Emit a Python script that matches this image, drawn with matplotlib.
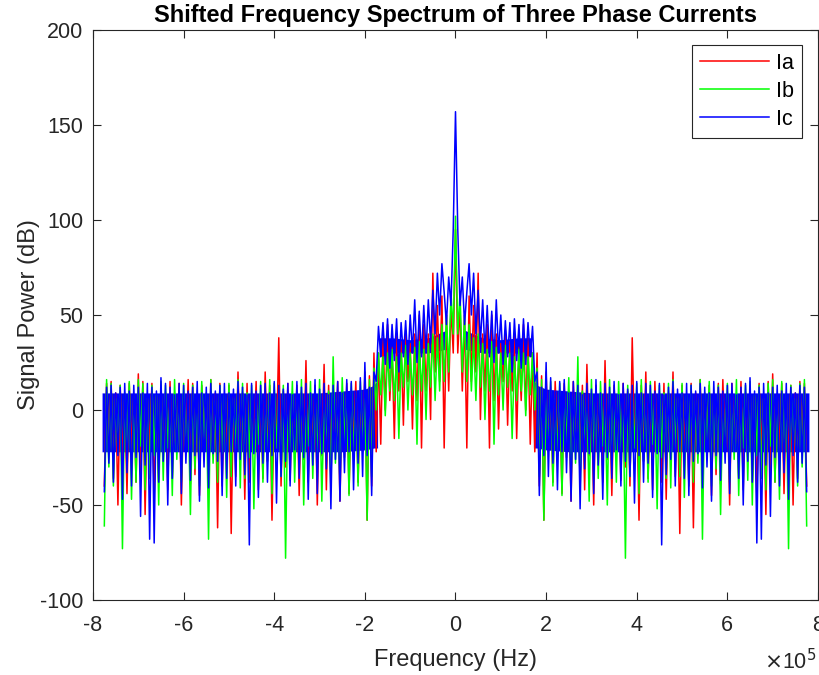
import numpy as np
import matplotlib
matplotlib.use("Agg")
import matplotlib.pyplot as plt

plt.rcParams['font.family'] = ['Liberation Sans', 'DejaVu Sans']
plt.rcParams['axes.unicode_minus'] = False

# ---------------- data (positive half of the symmetric spectrum) ----------------
# frequency bin spacing (Hz) of the plotted spectrum
bin_hz = 0.05e5

# central region 0 .. 1.75e5 Hz (dB)
ia_center = [95, 30, 55, 10, 50, -20, 60, 15, 55, 20, 72, -5, 40, 10, 45, -20, 50, 5,
             40, -10, 35, 15, 42, -8, 36, 10, 40, -15, 33, 5, 45, 0, 38, -18, 30, -22]
ib_center = [102, 40, 62, 20, 50, 15, 45, 10, 38, 5, 40, 12, 35, -5, 32, 10, 36, -18,
             33, 8, 30, 0, 34, 12, 30, -15, 28, 5, 32, 10, 30, -3, 28, 8, 30, 0]
ic_center = [157, 95, 55, 70, 45, 62, 77, 50, 72, 40, 63, 35, 58, 30, 55, 28, 52, 25,
             58, 30, 50, 24, 47, 28, 46, 20, 48, 26, 45, 22, 48, 24, 46, 28, 44, 15]

# outer region 1.8e5 .. 7.7e5 Hz : local maxima and minima (dB)
ia_peaks = [30, 18, 20, 9, 15, 7, 14, 10, 15, 6, 13, 24, 8, 13, 6, 26, 9, 13, 7, 14,
            10, 38, 6, 13, 20, 8, 15, 6, 14, 9, 20, 7, 13, 5, 14, 9, 16, 6, 13, 8,
            14, 16, 7, 14, 6, 15, 9, 13, 7, 14, 6, 15, 19, 8, 14, 6, 13, 9, 15, 14]
ia_dips = [-40, -58, -22, -38, -18, -44, -25, -48, -20, -36, -42, -24, -50, -19, -38, -26,
           -45, -21, -37, -30, -40, -18, -58, -27, -36, -42, -20, -38, -47, -23, -35, -65,
           -19, -40, -62, -24, -37, -20, -45, -34, -39, -22, -50, -18, -36, -42, -25, -38,
           -46, -20, -55, -34, -38, -21, -44, -27, -50, -36, -19, -40]
ib_peaks = [22, 16, 8, 15, 6, 14, 9, 17, 7, 28, 10, 6, 16, 8, 15, 5, 16, 9, 15, 6,
            13, 8, 14, 16, 7, 15, 5, 13, 9, 14, 16, 6, 14, 8, 13, 5, 16, 9, 15, 7,
            13, 6, 14, 9, 16, 5, 13, 15, 8, 13, 6, 14, 16, 7, 15, 9, 13, 6, 14, 16]
ib_dips = [-35, -58, -20, -40, -24, -45, -18, -38, -28, -42, -21, -48, -26, -36, -19, -50,
           -30, -38, -22, -78, -35, -20, -44, -27, -38, -18, -52, -25, -36, -41, -21, -35,
           -46, -23, -38, -28, -68, -19, -40, -31, -55, -22, -38, -26, -45, -20, -37, -50,
           -24, -36, -42, -19, -38, -47, -27, -73, -22, -40, -30, -61]
ic_peaks = [20, 12, 25, 17, 10, 15, 16, 9, 15, 13, 8, 14, 11, 16, 9, 14, 12, 15, 8, 14,
            11, 13, 15, 9, 14, 13, 10, 14, 8, 12, 15, 11, 9, 14, 13, 10, 14, 12, 9, 15,
            12, 10, 13, 14, 8, 12, 14, 17, 10, 12, 14, 9, 12, 13, 10, 14, 12, 9, 13, 12]
ic_dips = [-45, -24, -35, -28, -42, -22, -33, -48, -26, -52, -31, -23, -44, -29, -47, -25,
           -36, -21, -40, -27, -35, -49, -24, -38, -28, -46, -23, -71, -34, -26, -40, -22,
           -36, -45, -27, -23, -41, -30, -48, -24, -37, -28, -44, -22, -36, -50, -27, -38,
           -70, -68, -29, -56, -25, -40, -33, -47, -24, -38, -28, -43]

# dense noise floor of Ic (Hz, dB)
floor_f = [1.72e5, 1.8e5, 2.0e5, 2.5e5, 3.0e5, 4.0e5, 5.0e5, 6.0e5, 7.0e5, 7.8e5]
floor_hi = [16, 13, 11, 10, 9, 9, 9, 9, 9, 9]
floor_lo = [-20, -20, -21, -22, -22, -22, -22, -22, -22, -22]

# dense central plateau of Ic (Hz, dB)
plateau_f = [0.2e5, 0.6e5, 1.0e5, 1.4e5, 1.68e5]
plateau_hi = [42, 38, 37, 38, 38]
plateau_lo = [32, 30, 30, 30, 28]

series_names = ['Ia', 'Ib', 'Ic']
series_colors = ['#ff0000', '#00ff00', '#0000ff']

x_ticks = [-8e5, -6e5, -4e5, -2e5, 0, 2e5, 4e5, 6e5, 8e5]
x_ticklabels = ['-8', '-6', '-4', '-2', '0', '2', '4', '6', '8']
y_ticks = [-100, -50, 0, 50, 100, 150, 200]


def half_spectrum(center, peaks, dips):
    outer = [v for pair in zip(peaks, dips) for v in pair]
    return np.array(center + outer, dtype=float)


def full_spectrum(half):
    return np.concatenate([half[:0:-1], half])


halves = [half_spectrum(ia_center, ia_peaks, ia_dips),
          half_spectrum(ib_center, ib_peaks, ib_dips),
          half_spectrum(ic_center, ic_peaks, ic_dips)]
f_half = np.arange(len(halves[0])) * bin_hz
f_full = np.concatenate([-f_half[:0:-1], f_half])

# ---------------- figure ----------------
fig = plt.figure(figsize=(8.2, 6.75), dpi=100)
ax = fig.add_axes([93 / 820, 1 - 600 / 675, 725 / 820, 570 / 675])

for name, col, half in zip(series_names, series_colors, halves):
    if name == 'Ic':
        for sgn in (1, -1):
            ax.fill_between(sgn * np.array(floor_f), floor_lo, floor_hi, color=col, lw=0)
            ax.fill_between(sgn * np.array(plateau_f), plateau_lo, plateau_hi, color=col, lw=0)
    ax.plot(f_full, full_spectrum(half), color=col, lw=1.1, label=name)

ax.set_xlim(-8e5, 8e5)
ax.set_ylim(-100, 200)
ax.set_xticks(x_ticks)
ax.set_xticklabels(x_ticklabels)
ax.set_yticks(y_ticks)

tc = '#262626'
for s in ax.spines.values():
    s.set_color(tc)
    s.set_linewidth(0.8)
ax.tick_params(direction='in', length=6, width=0.8, colors=tc, labelsize=15.5,
               top=True, right=True, pad=7)
ax.tick_params(axis='x', pad=11)

ax.set_title('Shifted Frequency Spectrum of Three Phase Currents', fontsize=17,
             fontweight='bold', pad=6)
ax.set_xlabel('Frequency (Hz)', fontsize=17, color=tc, labelpad=9)
ax.set_ylabel('Signal Power (dB)', fontsize=17, color=tc, labelpad=0)
ax.text(0.998, -0.108, r'$\times$10$^5$', transform=ax.transAxes, ha='right',
        va='center', fontsize=15.5, color=tc)

leg = ax.legend(loc='upper right', bbox_to_anchor=(0.978, 0.974), borderaxespad=0,
                fancybox=False, framealpha=1, edgecolor=tc, fontsize=15.5,
                handlelength=3.2, handletextpad=0.35, labelspacing=0.33,
                borderpad=0.36)
leg.get_frame().set_linewidth(0.8)

fig.savefig('out.png', dpi=100)
